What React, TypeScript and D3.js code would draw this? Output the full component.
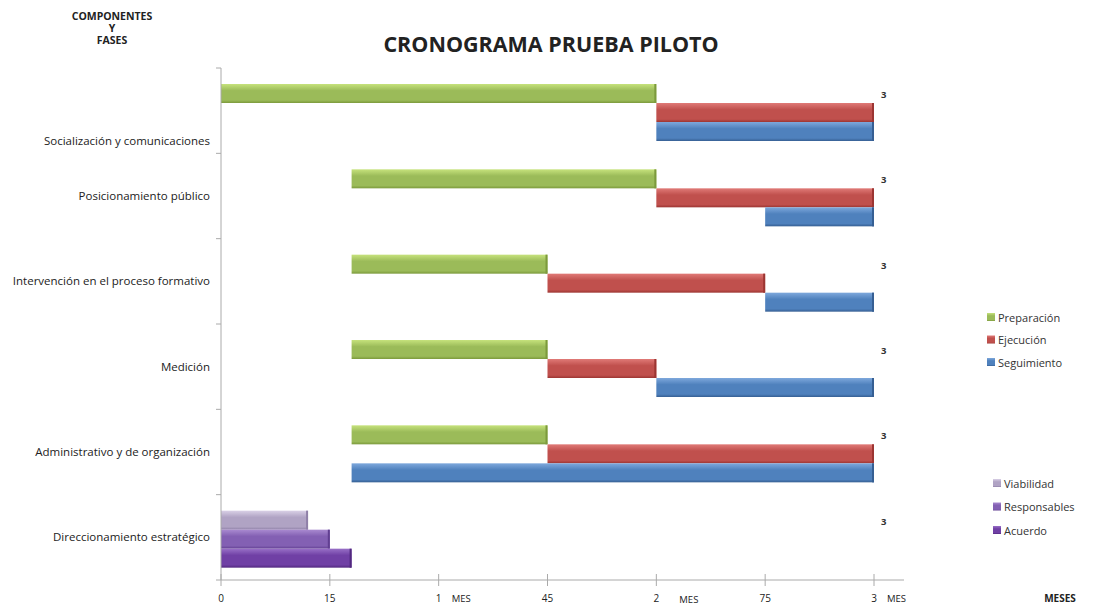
import React from "react";
import * as d3 from "d3";

// componentes / fases
const categories = [
  "Socialización y comunicaciones",
  "Posicionamiento público",
  "Intervención en el proceso formativo",
  "Medición",
  "Administrativo y de organización",
  "Direccionamiento estratégico",
];

// days (0 - 90)
const prepStart = [0, 18, 18, 18, 18];
const prepEnd = [60, 60, 45, 45, 45];
const execStart = [60, 60, 45, 45, 45];
const execEnd = [90, 90, 75, 60, 90];
const segStart = [60, 75, 75, 60, 18];
const segEnd = [90, 90, 90, 90, 90];

// direccionamiento estratégico
const viabilidad = [0, 12];
const responsables = [0, 15];
const acuerdo = [0, 18];

const endLabels = ["3", "3", "3", "3", "3", "3"];

const tickValues = [0, 15, 30, 45, 60, 75, 90];
const tickLabels = ["0", "15", "1", "45", "2", "75", "3"];
const tickSuffix = ["", "", "MES", "", "MES", "", "MES"];

const phaseNames = ["Preparación", "Ejecución", "Seguimiento"];
const dirNames = ["Viabilidad", "Responsables", "Acuerdo"];

const phaseColors = [
  ["#c6e27c", "#9bbb59", "#7c9a3c"],
  ["#e07a77", "#c0504d", "#9c3532"],
  ["#7ea8dc", "#4f81bd", "#365f93"],
];
const dirColors = [
  ["#d9d0e6", "#b0a3c4", "#8f80a8"],
  ["#a98ad0", "#8360b3", "#613f91"],
  ["#9870c7", "#7040a5", "#52287f"],
];

const W = 1115;
const H = 605;
const font = "'Open Sans', 'DejaVu Sans', sans-serif";

export default function App() {
  const x = d3.scaleLinear().domain([0, 90]).range([221, 874]);
  const y = d3.scaleBand<string>().domain(categories).range([68, 580]);
  const inner = d3.scaleBand<number>().domain([0, 1, 2]).range([16, 73]);

  const phaseRows = categories.slice(0, 5).map((c, i) => ({
    cat: c,
    bars: [
      [prepStart[i], prepEnd[i]],
      [execStart[i], execEnd[i]],
      [segStart[i], segEnd[i]],
    ],
  }));
  const dirBars = [viabilidad, responsables, acuerdo];

  const grad = (id: string, cols: string[]) => (
    <linearGradient id={id} x1="0" y1="0" x2="0" y2="1" key={id}>
      <stop offset="0" stopColor={cols[0]} />
      <stop offset="0.35" stopColor={cols[1]} />
      <stop offset="0.85" stopColor={cols[1]} />
      <stop offset="1" stopColor={cols[2]} />
    </linearGradient>
  );

  const bar = (key: string, s: number, e: number, yy: number, fillId: string, edge: string) => (
    <g key={key}>
      <rect x={x(s)} y={yy} width={x(e) - x(s)} height={inner.bandwidth()} fill={`url(#${fillId})`} />
      <rect x={x(e) - 2} y={yy} width={2} height={inner.bandwidth()} fill={edge} />
    </g>
  );

  const lastBand = y(categories[5])!;

  return (
    <svg width={W} height={H} style={{ position: "absolute", left: 0, top: 0, background: "#fff" }}>
      <defs>
        {phaseColors.map((c, i) => grad("ph" + i, c))}
        {dirColors.map((c, i) => grad("dr" + i, c))}
      </defs>

      {/* header */}
      <g fontFamily={font} fontWeight="bold" fontSize={10.5} fill="#222" textAnchor="middle">
        <text x={112} y={20}>COMPONENTES</text>
        <text x={112} y={32}>Y</text>
        <text x={112} y={44}>FASES</text>
      </g>
      <text x={551} y={52} textAnchor="middle" fontFamily={font} fontWeight="bold" fontSize={21.5} fill="#222">
        CRONOGRAMA PRUEBA PILOTO
      </text>

      {/* bars */}
      {phaseRows.map((r, i) =>
        r.bars.map((b, j) =>
          bar(`p${i}-${j}`, b[0], b[1], y(r.cat)! + inner(j)!, "ph" + j, phaseColors[j][2])
        )
      )}
      {dirBars.map((b, j) => bar(`d${j}`, b[0], b[1], lastBand + inner(j)!, "dr" + j, dirColors[j][2]))}

      {/* y axis */}
      <line x1={x(0)} x2={x(0)} y1={68} y2={580} stroke="#aaa" />
      {[...categories.map((c) => y(c)!), 580].map((v, i) => (
        <line key={"yt" + i} x1={x(0) - 5} x2={x(0)} y1={v} y2={v} stroke="#aaa" />
      ))}
      <g fontFamily={font} fontSize={11.5} fill="#222" textAnchor="end">
        {categories.map((c, i) => (
          <text key={c} x={210} y={y(c)! + y.bandwidth() / 2 + (i === 0 ? 34 : 4)}>
            {c}
          </text>
        ))}
      </g>
      <g fontFamily={font} fontSize={9.5} fontWeight="bold" fill="#333">
        {categories.map((c, i) => (
          <text key={"l" + c} x={881} y={y(c)! + 30}>
            {endLabels[i]}
          </text>
        ))}
      </g>

      {/* x axis */}
      <line x1={x(0)} x2={904} y1={580} y2={580} stroke="#aaa" />
      {tickValues.map((v, i) => (
        <g key={"xt" + v} fontFamily={font} fontSize={10} fill="#222">
          <line x1={x(v)} x2={x(v)} y1={574} y2={586} stroke="#aaa" />
          <text x={x(v)} y={602} textAnchor="middle">{tickLabels[i]}</text>
          {tickSuffix[i] && (
            <text x={x(v) + (i === 4 ? 23 : 13)} y={i === 4 ? 603 : 602} fontSize={9.5}>
              {tickSuffix[i]}
            </text>
          )}
        </g>
      ))}
      <text x={1060} y={602} textAnchor="middle" fontFamily={font} fontSize={10} fontWeight="bold" fill="#222">
        MESES
      </text>

      {/* legends */}
      <g fontFamily={font} fontSize={11} fill="#333">
        {phaseNames.map((n, i) => (
          <g key={n} transform={`translate(987, ${313 + i * 22.5})`}>
            <rect width={8} height={8} fill={`url(#ph${i})`} />
            <text x={11} y={8.5}>{n}</text>
          </g>
        ))}
        {dirNames.map((n, i) => (
          <g key={n} transform={`translate(993, ${479 + i * 23.5})`}>
            <rect width={8} height={8} fill={`url(#dr${i})`} />
            <text x={11} y={8.5}>{n}</text>
          </g>
        ))}
      </g>
    </svg>
  );
}
